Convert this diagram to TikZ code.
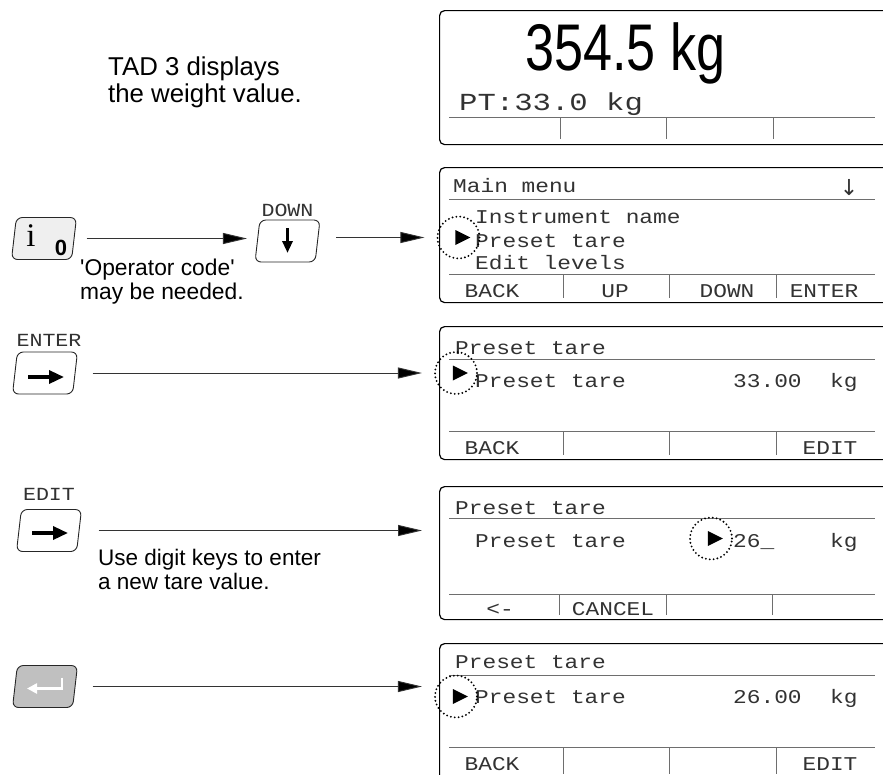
\documentclass[tikz,border=0pt]{standalone}
\usepackage{fontspec}
\setmainfont{Liberation Sans}
\newfontfamily\lcdfont[FakeStretch=1.17]{Liberation Mono}
\newfontfamily\lcdwide[FakeStretch=1.25]{Liberation Mono}
\newfontfamily\bigfont[FakeStretch=0.79]{Liberation Sans}
\newfontfamily\keyserif{Liberation Serif}
\newfontfamily\symfont{DejaVu Sans}
\usetikzlibrary{arrows.meta,positioning,shapes.geometric}
\definecolor{kGray}{RGB}{192,192,192}
\definecolor{kLight}{RGB}{239,239,239}
\definecolor{lcdInk}{RGB}{50,50,50}
\definecolor{lcdRule}{RGB}{110,110,110}

\begin{document}
\begin{tikzpicture}[x=1pt,y=-1pt,
	display/.style={
		draw=black, line width=1.2pt, rounded corners=5pt, anchor=north west,
		minimum width=470pt, inner sep=0
	},
	rule/.style={draw=lcdRule, line width=1pt},
	lcd/.style={font=\fontsize{19.5}{20}\lcdfont, text=lcdInk, inner sep=0, anchor=base west},
	softkey/.style={lcd, anchor=base},
	keycap/.style={
		trapezium, trapezium left angle=85, trapezium right angle=95, trapezium stretches=true,
		draw=black!85, line width=0.9pt, rounded corners=6pt, fill=white,
		minimum width=65pt, minimum height=42pt
	},
	keyname/.style={font=\fontsize{18.5}{19}\lcdfont, text=lcdInk, inner sep=0},
	glyph/.style={line width=3.4pt, -{Triangle[length=15pt,width=13pt]}},
	note/.style={align=left, anchor=north west, inner sep=0},
	flow/.style={
		draw=black!80, line width=0.9pt, -{Triangle[length=24pt,width=11pt,fill=black]},
		shorten <=17pt, shorten >=12pt
	},
	cursor/.style={
		circle, draw, line width=2.1pt, dash pattern=on 0pt off 3.9pt, line cap=round,
		minimum size=42pt, inner sep=0
	},
	marker/.style={
		isosceles triangle, isosceles triangle stretches, fill=black,
		minimum width=15pt, minimum height=15pt, inner sep=0
	}
	]
	\useasboundingbox (0,0) rectangle (883,774);
	\clip (0,0) rectangle (883,774);

	% left hand notes and keys
	\node[note, font=\fontsize{25.8}{27}\selectfont] (noteWeight) at (108,57) {TAD 3 displays\\the weight value.};

	\node[keycap, fill=kLight] (kInfo) at (44,238.5) {};
	\node[font=\fontsize{33}{33}\keyserif, inner sep=0, anchor=base] (kInfoI) at (31,246) {i};
	\node[font=\fontsize{22}{22}\bfseries, inner sep=0, anchor=base] (kInfoO) at (61,255) {0};
	\node[note, font=\fontsize{22.8}{24}\selectfont] (noteCode) at (80,259) {\textquotesingle Operator code\textquotesingle\\may be needed.};

	\node[keycap] (kDown) at (287.5,241) {};
	\node[keyname, above=3pt of kDown] (lDown) {DOWN};
	\draw[glyph, line width=3pt, -{Triangle[length=12pt,width=10pt]}]
		([shift={(0,-13)}]kDown.center) -- ++(0,25);

	\node[keycap] (kEnter) at (45,373) {};
	\node[keyname, above=5pt of kEnter, xshift=4pt] (lEnter) {ENTER};
	\draw[glyph] ([shift={(-17,4)}]kEnter.center) -- ++(36,0);

	\node[keycap] (kEdit) at (49,530.5) {};
	\node[keyname, above=8pt of kEdit] (lEdit) {EDIT};
	\draw[glyph] ([shift={(-17,2.5)}]kEdit.center) -- ++(36,0);
	\node[note, font=\fontsize{22.5}{24}\selectfont] (noteDigits) at (98,549) {Use digit keys to enter\\a new tare value.};

	\node[keycap, fill=kGray] (kReturn) at (45,686.5) {};
	\draw[white, line width=2.8pt, -{Triangle[length=10pt,width=10pt]}]
		([shift={(17,-9)}]kReturn.center) |- ++(-35,11);

	% display 1: weight
	\node[display, minimum height=134pt] (d1) at (439,10) {};
	\node[font=\fontsize{66}{66}\bigfont, inner sep=0, anchor=base west] (weight) at (525,70) {354.5 kg};
	\node[lcd, font=\fontsize{24.5}{25}\lcdwide] (ptare) at (459,110) {PT:33.0 kg};
	\draw[rule] (449,117) -- (875,117);
	\foreach \x in {560,666,773}
	\draw[rule] (\x,117) -- (\x,139);

	% display 2: main menu
	\node[display, minimum height=135pt] (d2) at (439,167) {};
	\node[lcd] (h2) at (453,192) {Main menu};
	\node[font=\fontsize{22}{22}\symfont, text=lcdInk, inner sep=0, anchor=base] (more) at (849,195) {↓};
	\node[lcd] (m1) at (475,223) {Instrument name};
	\node[lcd] (m2) at (475,247) {Preset tare};
	\node[lcd] (m3) at (475,269) {Edit levels};
	\draw[rule] (449,199) -- (875,199);
	\draw[rule] (449,274) -- (875,274);
	\foreach \x in {563,669,776}
	\draw[rule] (\x,274) -- (\x,298);
	\foreach \x/\s [count=\i] in {492/BACK,615/UP,727/DOWN,824/ENTER}
	\node[softkey] (f2\i) at (\x,297) {\s};

	% display 3: preset tare
	\node[display, minimum height=133pt] (d3) at (439,326) {};
	\node[lcd] (h3) at (455,354) {Preset tare};
	\node[lcd] (r3) at (475,387) {Preset tare};
	\node[lcd] (v3) at (733,387) {33.00};
	\node[lcd] (u3) at (830,387) {kg};
	\draw[rule] (449,359) -- (875,359);
	\draw[rule] (449,431) -- (875,431);
	\foreach \x in {563,669,776}
	\draw[rule] (\x,431) -- (\x,455);
	\foreach \x/\s [count=\i] in {492/BACK,830/EDIT}
	\node[softkey] (f3\i) at (\x,454) {\s};

	% display 4: editing
	\node[display, minimum height=133pt] (d4) at (439,486) {};
	\node[lcd] (h4) at (455,514) {Preset tare};
	\node[lcd] (r4) at (475,547) {Preset tare};
	\node[lcd] (v4) at (733,547) {26\_};
	\node[lcd] (u4) at (830,547) {kg};
	\draw[rule] (449,518) -- (875,518);
	\draw[rule] (449,594) -- (875,594);
	\foreach \x in {559,666,772}
	\draw[rule] (\x,594) -- (\x,615);
	\foreach \x/\s [count=\i] in {500/<-,613/CANCEL}
	\node[softkey] (f4\i) at (\x,615) {\s};

	% display 5: new value stored
	\node[display, minimum height=140pt] (d5) at (439,643) {};
	\node[lcd] (h5) at (455,668) {Preset tare};
	\node[lcd] (r5) at (475,703) {Preset tare};
	\node[lcd] (v5) at (733,703) {26.00};
	\node[lcd] (u5) at (830,703) {kg};
	\draw[rule] (449,675) -- (875,675);
	\draw[rule] (449,747) -- (875,747);
	\foreach \x in {563,669,776}
	\draw[rule] (\x,747) -- (\x,774);
	\foreach \x/\s [count=\i] in {492/BACK,830/EDIT}
	\node[softkey] (f5\i) at (\x,770) {\s};

	% cursors
	\node[cursor] (c2) at (458.5,237.5) {};
	\node[cursor] (c3) at (456,373) {};
	\node[cursor] (c4) at (711,538.5) {};
	\node[cursor] (c5) at (456,696.5) {};
	\foreach \n in {c2,c3,c4,c5}
	\node[marker] (\n m) at ([xshift=1.5pt]\n.center) {};

	% key strokes
	\draw[flow, shorten <=12pt, shorten >=10pt] (kInfo.east) -- (kInfo.east -| kDown.west);
	\draw[flow, shorten <=18pt] (kDown.east |- c2) -- (c2.west);
	\draw[flow] (kEnter.east) -- (kEnter.east -| c3.west);
	\draw[flow, shorten <=19pt, shorten >=17pt] (kEdit.east) -- (kEdit.east -| d4.west);
	\draw[flow] (kReturn.east) -- (kReturn.east -| c5.west);
\end{tikzpicture}
\end{document}
